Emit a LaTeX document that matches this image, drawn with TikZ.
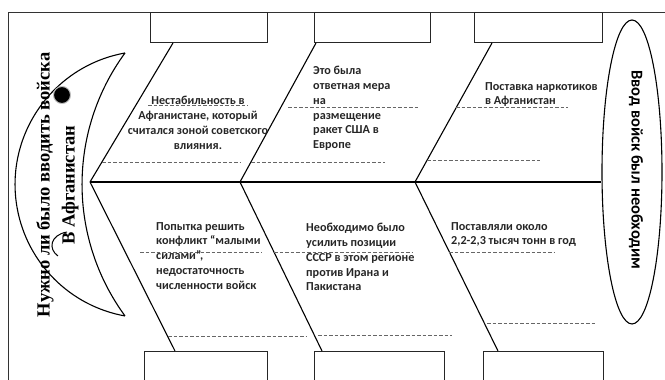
\documentclass[tikz,border=0pt]{standalone}
\usepackage{fontspec}
\setmainfont{Carlito}
\newfontfamily\headfont{Liberation Serif}
\usetikzlibrary{positioning,shapes.geometric}

\begin{document}
\begin{tikzpicture}[x=1pt, y=1pt,
  box/.style={draw=black!85, line width=1pt, anchor=north west, inner sep=0pt,
    minimum height=30pt},
  lowbox/.style={box, minimum height=40pt},
  bone/.style={line width=1.1pt, black},
  guide/.style={dashed, dash pattern=on 3.5pt off 2pt, line width=0.6pt, black!60},
  cause/.style={font=\bfseries\fontsize{12.2}{14.8}\selectfont, text=black!85,
    inner sep=0pt, anchor=north west, align=left},
]
\clip (0,0) rectangle (665,380);
% frame
\draw[line width=0.9pt, black!80] (8,-2) -- (8,368) -- (667,368);

% boxes
\node[box, minimum width=117pt] (t1) at (150,368) {};
\node[box, minimum width=116pt] (t2) at (314,368) {};
\node[box, minimum width=128pt] (t3) at (474,368) {};
\node[lowbox, minimum width=123pt] (b1) at (144,29) {};
\node[lowbox, minimum width=130pt] (b2) at (314,29) {};
\node[lowbox, minimum width=120pt] (b3) at (483,29) {};

% head and tail
\draw[bone] (125,327) arc[start angle=100.2, end angle=259.8, radius=133.6];
\draw[bone] (125,327) arc[start angle=143.8, end angle=216.2, radius=222.6];
\node[ellipse, draw, line width=1.1pt, minimum width=60pt, minimum height=304pt,
  inner sep=0pt] (goal) at (632,208) {};
\node[rotate=-90, font=\bfseries\fontsize{16.5}{19}\selectfont] (res) at (636,210)
  {Ввод войск был необходим};
\node[rotate=90, align=center, font=\headfont\bfseries\fontsize{18.5}{25}\selectfont]
  (quest) at (57.5,195) {Нужно ли было вводить войска\\В Афганистан};
\node[circle, fill=black, draw=black!25, line width=1pt, minimum size=17pt,
  inner sep=0pt] (dot) at (62,285) {};
\draw[line width=1pt] (67,148) .. controls (50,145) and (48,131) .. (58,124);

% spine and bones
\coordinate (head) at (90,198);
\coordinate (j1) at (240,198);
\coordinate (j2) at (415,198);
\draw[bone] (head) -- (head -| goal.west);
\draw[bone] (head) -- ([xshift=23pt]t1.south west);
\draw[bone] (j1) -- ([xshift=2pt]t2.south west);
\draw[bone] (j2) -- ([xshift=18pt]t3.south west);
\draw[bone] (head) -- ([xshift=31pt]b1.north west);
\draw[bone] (j1) -- ([xshift=8pt]b2.north west);
\draw[bone] (j2) -- ([xshift=15pt]b3.north west);

% guide lines
\draw[guide] (148,275) -- (248,275);
\draw[guide] (102,218) -- (240,218);
\draw[guide] (288,273) -- (418,273);
\draw[guide] (251,218) -- (385,218);
\draw[guide] (456,273) -- (568,273);
\draw[guide] (427,220) -- (540,220);
\draw[guide] (140,128) -- (262,128);
\draw[guide] (274,128) -- (413,128);
\draw[guide] (449,128) -- (555,128);
\draw[guide] (168,44) -- (307,44);
\draw[guide] (318,45) -- (452,45);
\draw[guide] (487,57) -- (595,57);

% causes
\node[cause, anchor=north, align=center] (c1) at (198,284)
  {Нестабильность в\\Афганистане, который\\считался зоной советского\\влияния.};
\node[cause] (c2) at (313,314)
  {Это была\\ответная мера\\на\\размещение\\ракет США в\\Европе};
\node[cause] (c3) at (485,298) {Поставка наркотиков\\в Афганистан};
\node[cause] (c4) at (156,158)
  {Попытка решить\\конфликт “малыми\\силами”,\\недостаточность\\численности войск};
\node[cause] (c5) at (306,157)
  {Необходимо было\\усилить позиции\\СССР в этом регионе\\против Ирана и\\Пакистана};
\node[cause] (c6) at (451,158) {Поставляли около\\2,2-2,3 тысяч тонн в год};
\end{tikzpicture}
\end{document}
